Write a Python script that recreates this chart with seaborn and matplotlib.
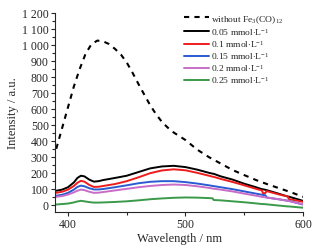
import numpy as np
import pandas as pd
import matplotlib
matplotlib.use('Agg')
import matplotlib.pyplot as plt
import matplotlib.ticker as ticker
import seaborn as sns

sns.set_style('ticks')
plt.rcParams['font.family'] = ['Liberation Serif', 'DejaVu Serif']
plt.rcParams['mathtext.fontset'] = 'custom'
plt.rcParams['mathtext.rm'] = 'Liberation Serif'
plt.rcParams['mathtext.it'] = 'Liberation Serif:italic'

# without Fe3(CO)12 (dashed)
wl_ref = [390, 395, 400, 405, 410, 415, 420, 425, 430, 435, 440, 445, 450, 455, 460, 465,
          470, 475, 480, 485, 490, 500, 510, 520, 530, 540, 550, 560, 570, 580, 590, 600]
ref = [350, 480, 610, 740, 850, 945, 1005, 1027, 1022, 1005, 975, 940, 890, 825, 755, 688,
       622, 566, 518, 482, 452, 405, 345, 298, 258, 218, 186, 155, 128, 103, 78, 50]

# concentrations, common wavelength grid
wl = [390, 395, 400, 405, 408, 411, 414, 418, 422, 426, 430, 440, 450, 460, 470, 480, 490,
      500, 510, 520, 523, 524, 530, 540, 550, 560, 565, 566, 568, 569, 580, 587, 588, 600]
c005 = [88, 95, 110, 140, 168, 182, 178, 158, 145, 148, 155, 168, 182, 205, 228, 240, 244,
        236, 220, 200, 195, 194, 178, 158, 132, 110, 98, 97, 94, 92, 68, 52, 51, 25]
c01 = [75, 82, 95, 118, 138, 150, 145, 125, 112, 113, 118, 130, 148, 172, 198, 215, 222,
       216, 200, 182, 176, 175, 162, 143, 122, 100, 90, 72, 74, 86, 64, 52, 36, 19]
c015 = [57, 63, 75, 95, 112, 120, 116, 104, 96, 96, 99, 110, 122, 135, 144, 148, 148,
        142, 133, 122, 118, 117, 110, 98, 84, 70, 63, 62, 60, 46, 34, 26, 25, 2]
c02 = [50, 55, 64, 78, 88, 95, 92, 82, 75, 76, 80, 90, 100, 110, 118, 124, 127,
       124, 116, 106, 102, 101, 95, 84, 70, 57, 50, 49, 47, 46, 34, 25, 24, 3]
c025 = [2, 5, 8, 15, 21, 25, 22, 17, 14, 14, 15, 18, 22, 28, 35, 40, 44,
        46, 45, 42, 41, 30, 28, 22, 16, 9, 5, 5, 4, 3, -5, -10, -10, -18]

labels = ['0.05 mmol$\\cdot$L$^{-1}$', '0.1 mmol$\\cdot$L$^{-1}$', '0.15 mmol$\\cdot$L$^{-1}$',
          '0.2 mmol$\\cdot$L$^{-1}$', '0.25 mmol$\\cdot$L$^{-1}$']
colors = ['black', '#f01c1c', '#2a5bd0', '#c86cc8', '#3a9a4a']

fig, ax = plt.subplots(figsize=(3.22, 2.53), dpi=100)
fig.subplots_adjust(left=0.171, right=0.941, bottom=0.158, top=0.945)

sns.lineplot(x=wl_ref, y=ref, ax=ax, color='black', linewidth=1.5,
             linestyle=(0, (2.5, 2.5)), label='without Fe$_3$(CO)$_{12}$')
for series, lab, col in zip([c005, c01, c015, c02, c025], labels, colors):
    sns.lineplot(x=wl, y=series, ax=ax, color=col, linewidth=1.4, label=lab)

ax.set_xlim(389, 600)
ax.set_ylim(-45, 1200)
ax.xaxis.set_major_locator(ticker.MultipleLocator(100))
ax.xaxis.set_minor_locator(ticker.MultipleLocator(50))
ax.yaxis.set_major_locator(ticker.MultipleLocator(100))
ax.yaxis.set_minor_locator(ticker.MultipleLocator(50))
ax.yaxis.set_major_formatter(ticker.FuncFormatter(
    lambda v, p: '{:,}'.format(int(v)).replace(',', ' ')))
ax.tick_params(which='major', length=3, width=0.8, labelsize=8.5, pad=1.5)
ax.tick_params(which='minor', length=2, width=0.8)
for s in ['top', 'right']:
    ax.spines[s].set_visible(False)
ax.spines['left'].set_linewidth(0.8)
ax.spines['bottom'].set_linewidth(0.8)

ax.set_xlabel('Wavelength / nm', fontsize=9, labelpad=1)
ax.set_ylabel('Intensity / a.u.', fontsize=9, labelpad=2)

ax.legend(loc='upper left', bbox_to_anchor=(0.52, 1.0), frameon=False, fontsize=6.8,
          handlelength=2.7, handletextpad=0.2, labelspacing=0.12, borderaxespad=0,
          borderpad=0)

plt.savefig('out.png', dpi=100)
